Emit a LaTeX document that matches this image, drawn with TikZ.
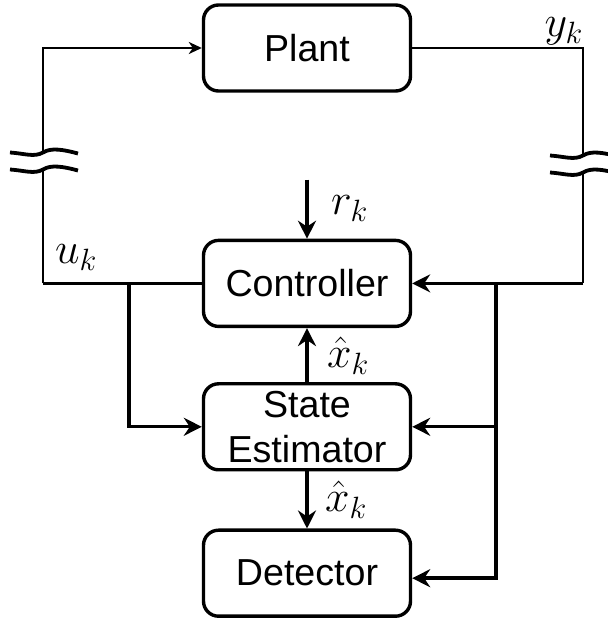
\documentclass[tikz,border=0pt]{standalone}
\usepackage{fix-cm}
\usepackage[no-math]{fontspec}
\setmainfont{Liberation Sans}
\usepackage{tikz}
\usetikzlibrary{arrows.meta,positioning}

\begin{document}
\begin{tikzpicture}[
x=1pt,y=1pt,
box/.style={draw,line width=3.4pt,rounded corners=15pt,minimum width=207pt,minimum height=86pt,align=center,font=\fontsize{37.6}{45}\selectfont},
wire/.style={line width=3.4pt},
thinwire/.style={line width=2.8pt},
arrow/.style={-{Stealth[length=18pt,width=18pt,inset=6pt]}},
smallarrow/.style={-{Stealth[length=13pt,width=12pt,inset=4pt]}},
sig/.style={inner sep=0pt,font=\fontsize{44}{50}\selectfont},
brk/.style={line width=3.8pt}
]
\useasboundingbox (0,0) rectangle (608,622);
\clip (0,0) rectangle (608,622);

\node[box] (plant) at (307,574) {Plant};
\node[box,below=146pt of plant] (ctrl) {Controller};
\node[box,below=54pt of ctrl] (est) {State\\Estimator};
\node[box,below=57pt of est] (det) {Detector};

\coordinate (lft) at (43,574);
\coordinate (rgt) at (583,574);
\coordinate (lbr) at (129,0);
\coordinate (rbr) at (496,0);
\coordinate[above=59pt of ctrl.north] (ref);

% loop through the plant
\draw[wire] (ctrl.west) -- (ctrl.west -| lft);
\draw[thinwire,smallarrow] (ctrl.west -| lft) -- (lft) -- (plant.west);
\draw[thinwire] (plant.east) -- (rgt) -- (ctrl.east -| rgt);
\draw[wire,arrow] (ctrl.east -| rgt) -- (ctrl.east);

% branches to estimator and detector
\draw[wire,arrow] (ctrl.west -| lbr) |- (est.west);
\draw[wire,arrow] (ctrl.east -| rbr) |- ([yshift=-5pt]det.east);
\draw[wire,arrow] (est.east -| rbr) -- (est.east);
\draw[wire,arrow] (ref) -- (ctrl.north);
\draw[wire,arrow] (est.north) -- (ctrl.south);
\draw[wire,arrow] (est.south) -- (det.north);

\node[sig,anchor=base west] (uk) at (55,358) {$u_k$};
\node[sig,anchor=base east] (yk) at (583,585) {$y_k$};
\node[sig,anchor=base west] (rk) at (331,407) {$r_k$};
\node[sig,anchor=base west] (xa) at (327,254) {$\hat{x}_k$};
\node[sig,anchor=base west] (xb) at (325,110) {$\hat{x}_k$};

% line breaks
\foreach \bx/\by in {43/461,583/458}{
  \fill[white,shift={(\bx,\by)}] (-33,8.5) .. controls (-18,7.5) and (-9,3.5) .. (0,8.5) .. controls (8,13.5) and (20,11.5) .. (35,7.5)
    -- (35,-9.5) .. controls (20,-5.5) and (8,-3.5) .. (0,-8.5) .. controls (-9,-13.5) and (-18,-9.5) .. (-33,-8.5) -- cycle;
  \foreach \dy in {8.5,-8.5}
    \draw[brk,shift={(\bx,\by+\dy)}] (-33,0) .. controls (-18,-1) and (-9,-5) .. (0,0) .. controls (8,5) and (20,3) .. (35,-1);
}
\end{tikzpicture}
\end{document}
